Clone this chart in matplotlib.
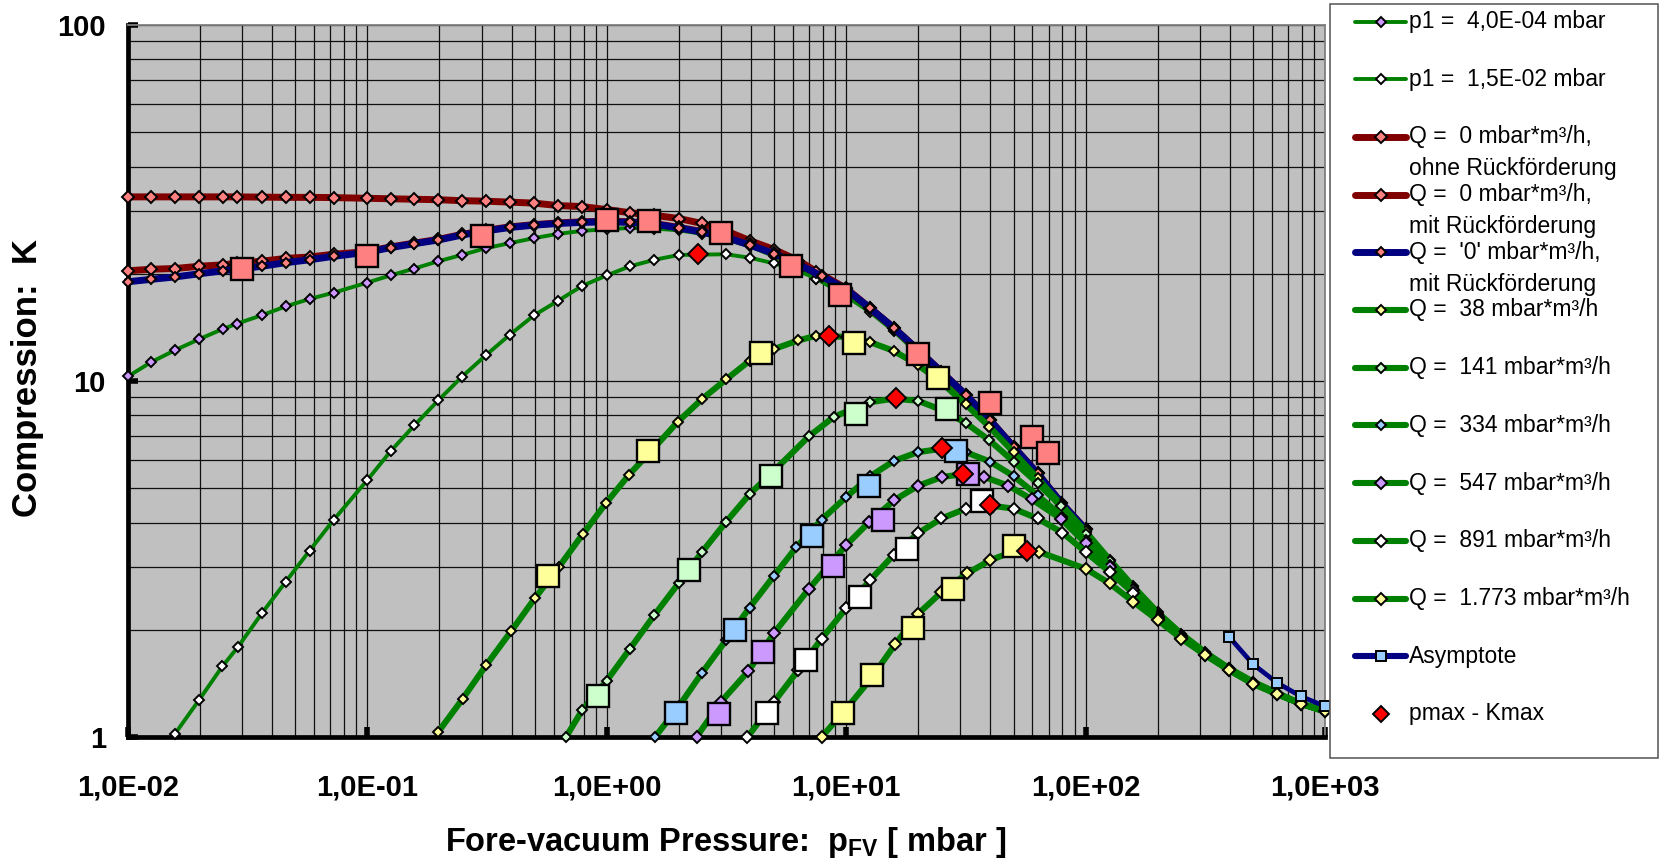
import matplotlib
matplotlib.use("Agg")
import matplotlib.pyplot as plt
from matplotlib.lines import Line2D
from matplotlib.patches import Rectangle
from matplotlib.ticker import FixedLocator, LogLocator, NullFormatter

plt.rcParams['font.family'] = ['Liberation Sans', 'DejaVu Sans']
plt.rcParams['mathtext.fontset'] = 'custom'
plt.rcParams['mathtext.rm'] = 'Liberation Sans'
plt.rcParams['mathtext.bf'] = 'Liberation Sans:bold'

# ---- compression curves K(p_FV) ----
# p1 = 4,0E-04 mbar
p1a_x = [0.01, 0.0125, 0.0157, 0.0198, 0.0249, 0.0286, 0.0362, 0.0456, 0.0573, 0.0722, 0.1, 0.125, 0.157,
         0.198, 0.248, 0.312, 0.394, 0.497, 0.626, 0.789, 1.0, 1.25, 1.58, 2.0, 2.5, 3.15, 3.95, 5.0, 6.3,
         7.5, 10, 12.6, 15.8, 20, 25, 31.6, 39.8, 50, 63, 79, 100]
p1a_k = [10.3, 11.3, 12.2, 13.1, 14.0, 14.5, 15.3, 16.2, 17.0, 17.7, 18.9, 19.8, 20.7, 21.7, 22.6, 23.6,
         24.4, 25.2, 25.9, 26.4, 26.7, 26.9, 26.8, 26.5, 25.9, 25.0, 23.9, 22.4, 20.8, 19.4, 17.6, 15.8,
         13.9, 12.0, 10.4, 9.0, 7.7, 6.45, 5.45, 4.5, 3.78]

# p1 = 1,5E-02 mbar
p1b_x = [0.0157, 0.0198, 0.0248, 0.0288, 0.0363, 0.0456, 0.0574, 0.0722, 0.1, 0.125, 0.157, 0.198, 0.248,
         0.312, 0.394, 0.497, 0.626, 0.789, 1.0, 1.25, 1.58, 2.0, 3.15, 3.95, 5.0, 6.3, 7.5, 10, 12.6,
         15.8, 20, 25, 31.6, 39.8, 50, 63, 79, 100]
p1b_k = [1.02, 1.27, 1.58, 1.79, 2.23, 2.73, 3.34, 4.07, 5.27, 6.35, 7.5, 8.83, 10.27, 11.8, 13.5, 15.3,
         16.8, 18.5, 19.8, 21.0, 21.9, 22.6, 22.7, 22.2, 21.4, 20.4, 19.4, 17.3, 15.6, 13.8, 11.9, 10.3,
         8.95, 7.65, 6.42, 5.42, 4.48, 3.76]

# Q = 0, ohne Rueckfoerderung
q0o_x = [0.01, 0.0125, 0.0157, 0.0198, 0.0249, 0.0286, 0.0362, 0.0456, 0.0573, 0.0722, 0.1, 0.125, 0.157,
         0.198, 0.248, 0.312, 0.394, 0.497, 0.626, 0.789, 1.0, 1.25, 1.58, 2.0, 2.5, 3.15, 3.95, 5.0, 6.3,
         7.5, 10, 12.6, 15.8, 20, 25, 31.6, 39.8, 50, 63, 79, 100]
q0o_k = [32.9, 32.9, 32.9, 32.9, 32.9, 32.9, 32.85, 32.8, 32.8, 32.75, 32.6, 32.5, 32.4, 32.3, 32.1, 32.0,
         31.8, 31.6, 31.1, 30.9, 30.3, 29.7, 29.2, 28.6, 27.7, 26.4, 24.8, 23.4, 21.8, 20.3, 18.2, 16.0,
         14.1, 12.2, 10.6, 9.14, 7.77, 6.53, 5.5, 4.55, 3.83]

# Q = 0, mit Rueckfoerderung
q0m_x = [0.01, 0.0125, 0.0157, 0.0198, 0.0249, 0.0286, 0.0362, 0.0456, 0.0573, 0.0722, 0.1, 0.125, 0.157,
         0.198, 0.248, 0.312, 0.394, 0.497, 0.626, 0.789, 1.0, 1.25, 1.58, 2.0, 2.5, 3.15, 3.95, 5.0, 6.3,
         7.9, 10, 12.6, 15.8, 20, 25, 31.6, 39.8, 50, 63, 79, 100]
q0m_k = [20.4, 20.6, 20.7, 21.0, 21.2, 21.4, 21.7, 22.1, 22.3, 22.7, 23.1, 23.8, 24.4, 25.0, 25.8, 26.5,
         27.1, 27.5, 27.8, 28.0, 28.1, 28.0, 27.7, 27.0, 26.3, 25.4, 24.2, 22.9, 21.3, 19.7, 18.1, 16.0,
         14.1, 12.2, 10.6, 9.14, 7.77, 6.53, 5.5, 4.55, 3.83]

# Q = '0', mit Rueckfoerderung
q0b_x = q0m_x
q0b_k = [19.0, 19.3, 19.6, 20.0, 20.4, 20.6, 21.0, 21.5, 21.9, 22.4, 23.0, 23.7, 24.3, 24.9, 25.7, 26.4,
         27.0, 27.4, 27.7, 27.9, 28.0, 27.9, 27.6, 26.9, 26.2, 25.3, 24.1, 22.8, 21.3, 19.7, 18.1, 16.0,
         14.1, 12.2, 10.6, 9.14, 7.77, 6.53, 5.5, 4.55, 3.83]

# Q = 38 mbar*m3/h
q38_x = [0.197, 0.25, 0.313, 0.398, 0.5, 0.63, 0.793, 0.99, 1.24, 1.58, 1.98, 2.5, 3.15, 3.95, 5.0, 6.3,
         7.5, 10, 12.6, 15.8, 19.9, 25, 31.6, 39.6, 50, 63, 79, 100, 126, 158, 200, 251, 316, 398, 501,
         631, 794, 1000]
q38_k = [1.03, 1.28, 1.59, 1.98, 2.45, 3.0, 3.71, 4.53, 5.46, 6.5, 7.68, 8.9, 10.1, 11.4, 12.3, 13.0,
         13.4, 13.3, 12.85, 12.15, 11.1, 9.9, 8.59, 7.44, 6.31, 5.33, 4.5, 3.78, 3.15, 2.65, 2.24, 1.95,
         1.73, 1.56, 1.43, 1.33, 1.24, 1.19]

# Q = 141 mbar*m3/h
q141_x = [0.675, 0.79, 1.0, 1.25, 1.58, 2.0, 2.5, 3.15, 3.95, 5.0, 7.0, 8.9, 12.6, 15.8, 19.9, 25, 31.6,
          39.6, 50, 63, 79, 100, 126, 158, 200, 251, 316, 398, 501, 631, 794, 1000]
q141_k = [1.0, 1.19, 1.44, 1.77, 2.2, 2.71, 3.31, 4.02, 4.81, 5.6, 7.0, 7.94, 8.72, 8.92, 8.8, 8.3, 7.62,
          6.82, 5.94, 5.16, 4.45, 3.72, 3.12, 2.63, 2.22, 1.94, 1.72, 1.55, 1.42, 1.32, 1.24, 1.18]

# Q = 334 mbar*m3/h
q334_x = [1.59, 2.0, 2.5, 3.15, 3.95, 5.0, 6.2, 7.9, 10.0, 12.6, 15.8, 19.9, 25, 31.6, 39.8, 50, 63, 80,
          100, 126, 158, 200, 251, 316, 398, 501, 631, 794, 1000]
q334_k = [1.0, 1.22, 1.515, 1.87, 2.31, 2.84, 3.42, 4.08, 4.72, 5.4, 5.96, 6.31, 6.45, 6.31, 5.94, 5.41,
          4.77, 4.16, 3.57, 3.04, 2.6, 2.2, 1.93, 1.72, 1.55, 1.42, 1.32, 1.24, 1.18]

# Q = 547 mbar*m3/h
q547_x = [2.37, 3.0, 3.9, 5.0, 7.0, 10.0, 12.5, 15.9, 20, 25.2, 31.6, 37.6, 47.6, 59.7, 79, 100, 126,
          158, 200, 251, 316, 398, 501, 631, 794, 1000]
q547_k = [1.0, 1.256, 1.53, 1.96, 2.61, 3.46, 4.02, 4.63, 5.08, 5.38, 5.48, 5.38, 5.08, 4.65, 4.1, 3.5,
          3.0, 2.58, 2.18, 1.92, 1.71, 1.55, 1.42, 1.32, 1.24, 1.18]

# Q = 891 mbar*m3/h
q891_x = [3.87, 5.0, 6.3, 7.9, 10.0, 12.6, 15.8, 19.9, 25, 31.6, 39.8, 50, 63, 80, 100, 126, 158, 200,
          251, 316, 398, 501, 631, 794, 1000]
q891_k = [1.0, 1.256, 1.54, 1.89, 2.3, 2.76, 3.25, 3.73, 4.11, 4.38, 4.47, 4.38, 4.11, 3.75, 3.31, 2.91,
          2.54, 2.15, 1.9, 1.7, 1.54, 1.41, 1.32, 1.24, 1.18]

# Q = 1.773 mbar*m3/h
q1773_x = [7.9, 10, 12.6, 16, 20, 25, 32, 40, 50, 64, 100, 126, 158, 200, 251, 316, 398, 501, 631, 794,
           1000]
q1773_k = [1.0, 1.2, 1.45, 1.82, 2.22, 2.55, 2.88, 3.14, 3.32, 3.31, 2.97, 2.70, 2.4, 2.13, 1.89, 1.70,
           1.54, 1.41, 1.32, 1.24, 1.18]

# asymptote at high fore-vacuum pressure
asym_x = [398, 501, 631, 794, 1000]
asym_k = [1.91, 1.60, 1.42, 1.30, 1.22]

# measured points (large squares)
m0_x = [0.0299, 0.1, 0.3, 1.0, 1.5, 3.0, 5.9, 9.4, 19.9, 39.8, 60, 69.7]
m0_k = [20.7, 22.4, 25.5, 28.3, 28.2, 26.0, 21.1, 17.4, 11.9, 8.68, 6.97, 6.27]
m38_x = [0.57, 1.49, 4.4, 10.8, 24.2]
m38_k = [2.84, 6.36, 11.97, 12.8, 10.2]
m141_x = [0.92, 2.2, 4.86, 11.0, 26.3]
m141_k = [1.30, 2.94, 5.41, 8.1, 8.37]
m334_x = [1.94, 3.44, 7.2, 12.5, 28.8]
m334_k = [1.17, 2.0, 3.67, 5.08, 6.37]
m547_x = [2.93, 4.5, 8.8, 14.2, 32.4]
m547_k = [1.16, 1.73, 3.02, 4.07, 5.49]
m891_x = [4.66, 6.8, 11.4, 17.9, 37.0]
m891_k = [1.17, 1.65, 2.48, 3.37, 4.6]
m1773_x = [9.7, 12.8, 19.1, 27.9, 50]
m1773_k = [1.17, 1.49, 2.03, 2.6, 3.45]

# maxima of the curves
pmax_x = [2.4, 8.5, 16.2, 25.1, 30.9, 39.8, 57]
kmax = [22.8, 13.4, 8.93, 6.47, 5.49, 4.48, 3.33]

x_ticks = [1e-2, 1e-1, 1e0, 1e1, 1e2, 1e3]
x_tick_labels = ['1,0E-02', '1,0E-01', '1,0E+00', '1,0E+01', '1,0E+02', '1,0E+03']
y_ticks = [1, 10, 100]
y_tick_labels = ['1', '10', '100']

GREEN = '#008000'
DRED = '#800000'
NAVY = '#000080'
SALMON = '#FF8080'
VIOLET = '#CC99FF'
YELLOW = '#FFFF99'
LGREEN = '#CCFFCC'
LBLUE = '#99CCFF'

W, H = 1660, 861
fig = plt.figure(figsize=(W / 100, H / 100), dpi=100)
fig.patch.set_facecolor('white')


def fx(px):
    return px / W


def fy(py):
    return 1 - py / H


ax = fig.add_axes([fx(128), fy(737), fx(1325) - fx(128), fy(25) - fy(737)])
ax.set_xscale('log')
ax.set_yscale('log')
ax.set_xlim(1e-2, 1e3)
ax.set_ylim(1, 100)
ax.set_facecolor('#C0C0C0')
ax.xaxis.set_minor_locator(LogLocator(base=10, subs=range(2, 10), numticks=20))
ax.yaxis.set_minor_locator(LogLocator(base=10, subs=range(2, 10), numticks=20))
ax.xaxis.set_minor_formatter(NullFormatter())
ax.yaxis.set_minor_formatter(NullFormatter())
ax.grid(which='both', color='#101010', lw=0.9)
ax.set_axisbelow(True)

for s in ['left', 'bottom']:
    ax.spines[s].set_linewidth(3.4)
    ax.spines[s].set_color('black')
for s in ['top', 'right']:
    ax.spines[s].set_linewidth(1.3)
    ax.spines[s].set_color('#808080')

ax.xaxis.set_major_locator(FixedLocator(x_ticks))
ax.yaxis.set_major_locator(FixedLocator(y_ticks))
ax.set_xticklabels(x_tick_labels)
ax.set_yticklabels(y_tick_labels)
ax.tick_params(which='major', direction='in', length=7, width=4, color='black')
ax.tick_params(which='minor', length=0)
ax.tick_params(axis='x', pad=26)
ax.tick_params(axis='y', pad=16)
for lab in ax.get_xticklabels() + ax.get_yticklabels():
    lab.set_fontsize(21)
    lab.set_fontweight('bold')


def curve(x, k, color, lw, mfc, ms):
    ax.plot(x, k, color=color, lw=lw, marker='D', ms=ms, mfc=mfc, mec='black', mew=1.4,
            clip_on=False, zorder=3, solid_joinstyle='round')


curve(p1a_x, p1a_k, GREEN, 2.8, VIOLET, 5.2)
curve(p1b_x, p1b_k, GREEN, 2.8, 'white', 5.2)
curve(q0o_x, q0o_k, DRED, 5.0, SALMON, 6.0)
curve(q0m_x, q0m_k, DRED, 5.0, SALMON, 6.0)
curve(q0b_x, q0b_k, NAVY, 5.0, SALMON, 4.8)
curve(q38_x, q38_k, GREEN, 4.4, YELLOW, 5.2)
curve(q141_x, q141_k, GREEN, 4.4, LGREEN, 5.2)
curve(q334_x, q334_k, GREEN, 4.4, LBLUE, 5.2)
curve(q547_x, q547_k, GREEN, 4.4, VIOLET, 6.0)
curve(q891_x, q891_k, GREEN, 4.4, 'white', 6.0)
curve(q1773_x, q1773_k, GREEN, 4.4, YELLOW, 6.0)

# measured points
for mx, mk, c in [(m0_x, m0_k, SALMON), (m38_x, m38_k, YELLOW), (m141_x, m141_k, LGREEN),
                  (m334_x, m334_k, LBLUE), (m547_x, m547_k, VIOLET), (m891_x, m891_k, 'white'),
                  (m1773_x, m1773_k, YELLOW)]:
    ax.plot(mx, mk, ls='none', marker='s', ms=16, mfc=c, mec='black', mew=1.7, clip_on=False, zorder=3)

ax.plot(asym_x, asym_k, color=NAVY, lw=3.4, marker='s', ms=7.5, mfc=LBLUE, mec='black', mew=1.4,
        clip_on=False, zorder=3)
ax.plot(pmax_x, kmax, ls='none', marker='D', ms=10, mfc='#FF0000', mec='black', mew=1.4,
        clip_on=False, zorder=3)

# axis titles
fig.text(fx(27), fy(378), 'Compression:  K', rotation=90, ha='center', va='center',
         fontsize=25, fontweight='bold')
fig.text(fx(726), fy(842), r'Fore-vacuum Pressure:  $\mathbf{p_{FV}}$ [ mbar ]', ha='center',
         va='center', fontsize=23.5, fontweight='bold')

# legend box drawn by hand
fig.patches.append(Rectangle((fx(1330), fy(758)), fx(1658) - fx(1330), fy(4) - fy(758),
                             transform=fig.transFigure, facecolor='white', edgecolor='#606060',
                             lw=1.2, zorder=5))
entries = [
    (['p1 =  4,0E-04 mbar'], GREEN, 2.8, 'D', VIOLET, 5.0),
    (['p1 =  1,5E-02 mbar'], GREEN, 2.8, 'D', 'white', 5.0),
    (['Q =  0 mbar*m³/h,', 'ohne Rückförderung'], DRED, 5.0, 'D', SALMON, 6.2),
    (['Q =  0 mbar*m³/h,', 'mit Rückförderung'], DRED, 5.0, 'D', SALMON, 6.2),
    (["Q =  '0' mbar*m³/h,", 'mit Rückförderung'], NAVY, 5.0, 'D', SALMON, 5.0),
    (['Q =  38 mbar*m³/h'], GREEN, 4.4, 'D', YELLOW, 5.0),
    (['Q =  141 mbar*m³/h'], GREEN, 4.4, 'D', LGREEN, 5.0),
    (['Q =  334 mbar*m³/h'], GREEN, 4.4, 'D', LBLUE, 5.0),
    (['Q =  547 mbar*m³/h'], GREEN, 4.4, 'D', VIOLET, 6.2),
    (['Q =  891 mbar*m³/h'], GREEN, 4.4, 'D', 'white', 6.2),
    (['Q =  1.773 mbar*m³/h'], GREEN, 4.4, 'D', YELLOW, 6.2),
    (['Asymptote'], NAVY, 4.4, 's', LBLUE, 7.5),
    (['pmax - Kmax'], None, 0, 'D', '#FF0000', 8.0),
]
for i, (lines, color, lw, mk, mfc, ms) in enumerate(entries):
    yc = 21.5 + i * 57.7
    if color is not None:
        fig.lines.append(Line2D([fx(1355), fx(1406)], [fy(yc), fy(yc)], transform=fig.transFigure,
                                color=color, lw=lw, solid_capstyle='round', zorder=6))
    fig.lines.append(Line2D([fx(1380.5)], [fy(yc)], transform=fig.transFigure, ls='none', marker=mk,
                            ms=ms, mfc=mfc, mec='black', mew=1.4, zorder=7))
    for j, t in enumerate(lines):
        fig.text(fx(1409), fy(yc + j * 31.7), t, ha='left', va='center', fontsize=16.5, zorder=7)

fig.savefig('out.png', dpi=100)
